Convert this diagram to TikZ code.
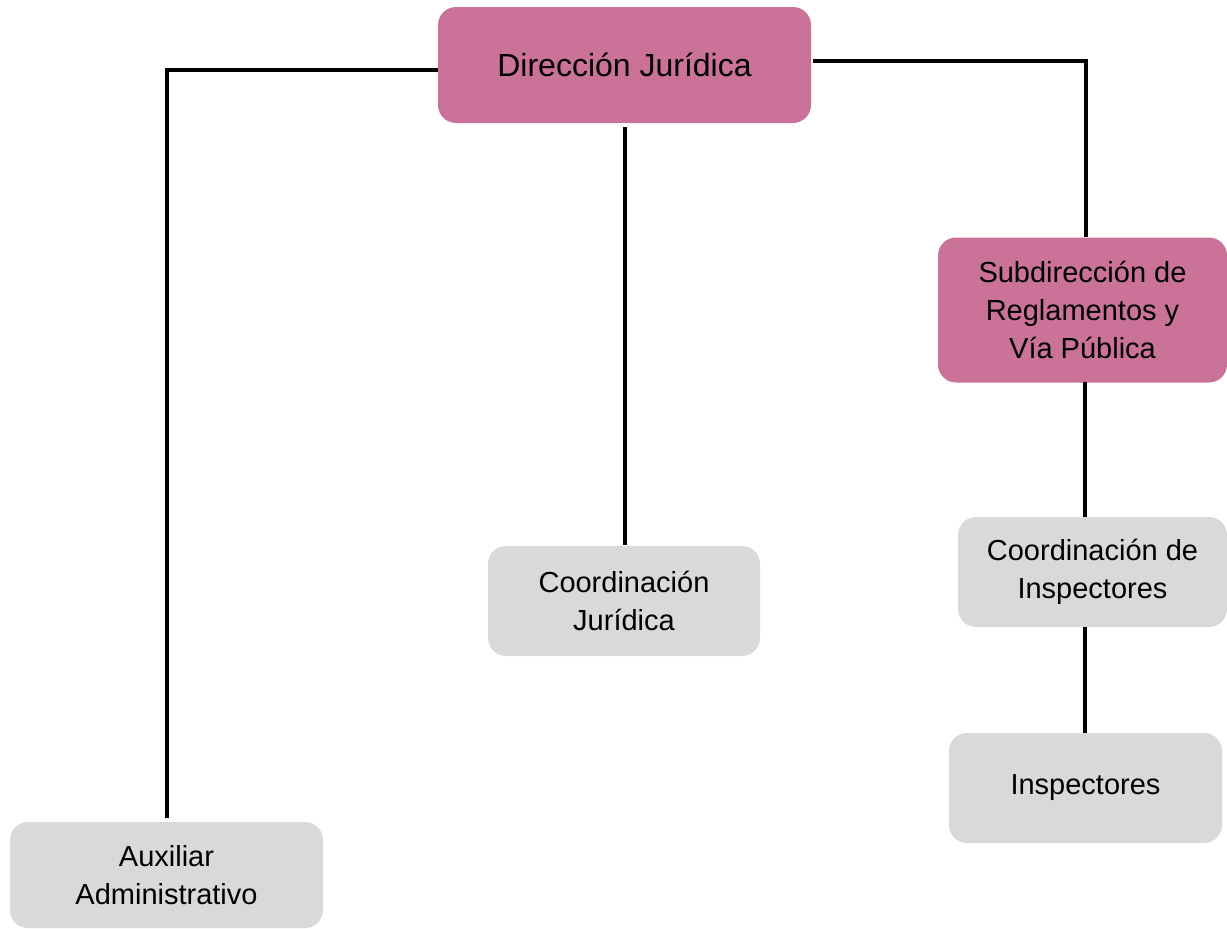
\documentclass[tikz,border=0pt]{standalone}
\usepackage{fontspec}
\setmainfont{Liberation Sans}
\definecolor{pinkbox}{HTML}{CB7298}
\definecolor{greybox}{HTML}{D9D9D9}
\begin{document}
\begin{tikzpicture}[x=1pt,y=-1pt,
  box/.style={rounded corners=18pt, align=center, inner sep=0pt, text=black,
    font=\fontsize{29}{38}\selectfont},
  pinkb/.style={box, fill=pinkbox},
  greyb/.style={box, fill=greybox},
  conn/.style={line width=4.5pt, black}]
\useasboundingbox (0,0) rectangle (1227,929);
\node[pinkb, minimum width=373pt, minimum height=116pt, font=\fontsize{32}{38}\selectfont] (dir) at (624.5,65) {Dirección Jurídica};
\node[pinkb, minimum width=289pt, minimum height=145pt] (sub) at (1082.5,310) {Subdirección de\\Reglamentos y\\Vía Pública};
\node[greyb, minimum width=272pt, minimum height=110pt] (cj) at (624,601) {Coordinación\\Jurídica};
\node[greyb, minimum width=269pt, minimum height=110pt] (ci) at (1092.5,572) {Coordinación de\\Inspectores};
\node[greyb, minimum width=273pt, minimum height=110pt] (insp) at (1085.5,788) {Inspectores};
\node[greyb, minimum width=313pt, minimum height=106pt] (aux) at (166.5,875) {Auxiliar\\Administrativo};
\coordinate (dl) at (438,70);
\coordinate (dr) at (813,61);
\coordinate (sn) at (1086,237);
\coordinate (an) at (167,818);
\draw[conn] (dl) -| (an);
\draw[conn] (dr) -| (sn);
\draw[conn] (625,127) -- (625,545);
\draw[conn] (1085,382) -- (1085,517);
\draw[conn] (1085,627) -- (1085,733);
\end{tikzpicture}
\end{document}
